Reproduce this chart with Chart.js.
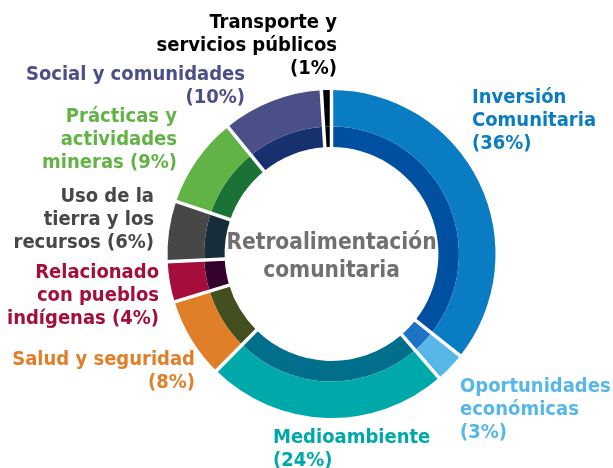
<!DOCTYPE html>
<html lang="es">
<head>
<meta charset="UTF-8">
<title>Retroalimentación comunitaria</title>
<script src="https://cdn.jsdelivr.net/npm/chart.js"></script>
<style>
  html, body { margin: 0; padding: 0; background: #fff; }
  #wrap { position: relative; width: 613px; height: 468px; }
</style>
</head>
<body>
<div id="wrap"><canvas id="myChart" width="613" height="468"></canvas></div>
<script>
// categories, clockwise from 12 o'clock
const categories = [
  'Inversión Comunitaria', 'Oportunidades económicas', 'Medioambiente',
  'Salud y seguridad', 'Relacionado con pueblos indígenas', 'Uso de la tierra y los recursos',
  'Prácticas y actividades mineras', 'Social y comunidades', 'Transporte y servicios públicos'
];
const shares = [36, 3, 24, 8, 4, 6, 9, 10, 1];

const outerColors = ['#0a7cc4', '#56b7e8', '#00a9a9', '#e07f28', '#a50d3a', '#464845', '#62b346', '#4b4f88', '#000000'];
const innerColors = ['#0050a2', '#1c73c6', '#006f8c', '#444f20', '#36002c', '#172d3a', '#1b7236', '#17306e', '#000000'];

// label text lines (percent filled in from shares)
const labelLines = [
  ['Inversión', 'Comunitaria', '(%)'],
  ['Oportunidades', 'económicas', '(%)'],
  ['Medioambiente', '(%)'],
  ['Salud y seguridad', '(%)'],
  ['Relacionado', 'con pueblos', 'indígenas (%)'],
  ['Uso de la', 'tierra y los', 'recursos (%)'],
  ['Prácticas y', 'actividades', 'mineras (%)'],
  ['Social y comunidades', '(%)'],
  ['Transporte y', 'servicios públicos', '(%)']
];
const centerTitle = ['Retroalimentación', 'comunitaria'];

// label anchors: x, first line y, alignment
const labelPos = [
  [472, 98, 'left'], [460, 387, 'left'], [273, 438, 'left'],
  [195, 360, 'right'], [159, 273, 'right'], [154, 197, 'right'],
  [177, 117, 'right'], [245, 75, 'right'], [337, 23, 'right']
];

const FONT = '"DejaVu Sans Condensed", "DejaVu Sans", sans-serif';

// white gaps between slices, through both rings
const separators = {
  id: 'separators',
  afterDatasetsDraw(chart) {
    const outer = chart.getDatasetMeta(0).data;
    const inner = chart.getDatasetMeta(1).data;
    const ctx = chart.ctx;
    ctx.save();
    ctx.strokeStyle = '#fff';
    ctx.lineWidth = 3.5;
    outer.forEach((arc, i) => {
      const a = arc.startAngle;
      const r0 = inner[i].innerRadius - 1, r1 = arc.outerRadius + 1;
      ctx.beginPath();
      ctx.moveTo(arc.x + Math.cos(a) * r0, arc.y + Math.sin(a) * r0);
      ctx.lineTo(arc.x + Math.cos(a) * r1, arc.y + Math.sin(a) * r1);
      ctx.stroke();
    });
    ctx.restore();
  }
};

const labels = {
  id: 'labels',
  afterDraw(chart) {
    const ctx = chart.ctx;
    const arc = chart.getDatasetMeta(0).data[0];
    ctx.save();
    ctx.textBaseline = 'middle';
    ctx.font = 'bold 20px ' + FONT;
    labelLines.forEach((lines, i) => {
      const [x, y, align] = labelPos[i];
      ctx.textAlign = align;
      ctx.fillStyle = outerColors[i];
      lines.forEach((t, j) => {
        ctx.fillText(t.replace('(%)', '(' + shares[i] + '%)'), x, y + j * 23);
      });
    });
    ctx.fillStyle = '#707070';
    ctx.textAlign = 'center';
    ctx.font = 'bold 22.5px ' + FONT;
    ctx.fillText(centerTitle[0], arc.x, arc.y - 11);
    ctx.fillText(centerTitle[1], arc.x, arc.y + 17);
    ctx.restore();
  }
};

new Chart(document.getElementById('myChart'), {
  type: 'doughnut',
  data: {
    labels: categories,
    datasets: [
      { data: shares, backgroundColor: outerColors, borderWidth: 0, weight: 36.5 },
      { data: shares, backgroundColor: innerColors, borderWidth: 0, weight: 20.5 }
    ]
  },
  options: {
    responsive: false,
    animation: false,
    events: [],
    cutout: '65.2%',
    layout: { padding: { top: 90, bottom: 50, left: 167, right: 117 } },
    plugins: { legend: { display: false }, tooltip: { enabled: false } }
  },
  plugins: [separators, labels]
});
</script>
</body>
</html>
